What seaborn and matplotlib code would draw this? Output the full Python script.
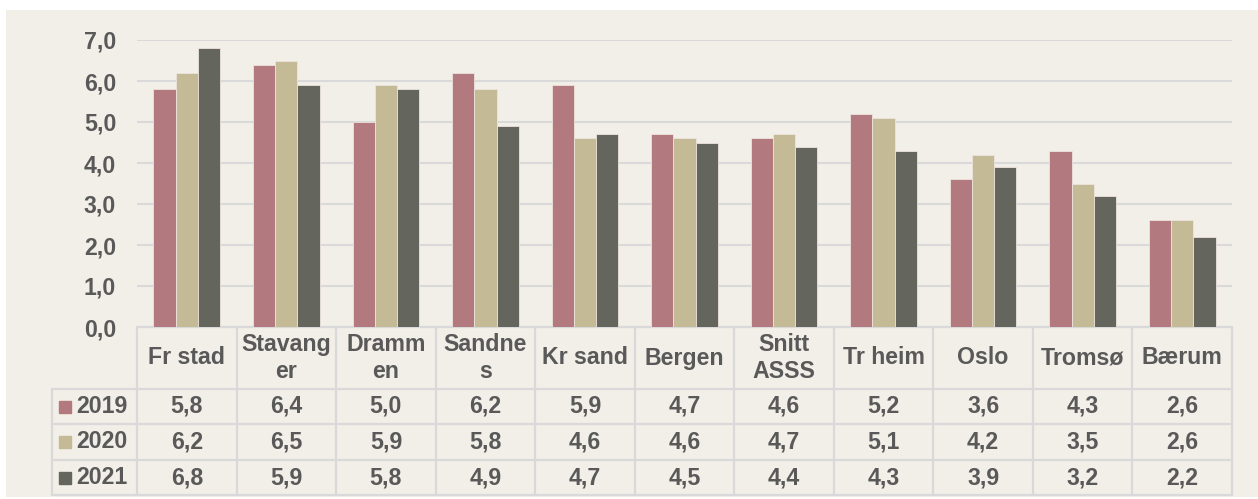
import numpy as np
import pandas as pd
import matplotlib
matplotlib.use('Agg')
import matplotlib.pyplot as plt
import seaborn as sns
from matplotlib.transforms import blended_transform_factory
from matplotlib.patches import Rectangle

# Data
kommuner = ['Fr stad', 'Stavang\ner', 'Dramm\nen', 'Sandne\ns', 'Kr sand', 'Bergen',
            'Snitt\nASSS', 'Tr heim', 'Oslo', 'Tromsø', 'Bærum']
aar = ['2019', '2020', '2021']
v2019 = [5.8, 6.4, 5.0, 6.2, 5.9, 4.7, 4.6, 5.2, 3.6, 4.3, 2.6]
v2020 = [6.2, 6.5, 5.9, 5.8, 4.6, 4.6, 4.7, 5.1, 4.2, 3.5, 2.6]
v2021 = [6.8, 5.9, 5.8, 4.9, 4.7, 4.5, 4.4, 4.3, 3.9, 3.2, 2.2]
farger = ['#B27A7E', '#C4BB96', '#64655C']

df = pd.DataFrame({'kommune': kommuner * 3,
                   'aar': np.repeat(aar, len(kommuner)),
                   'verdi': v2019 + v2020 + v2021})

sns.set_style('white')
plt.rcParams['font.family'] = ['Liberation Sans', 'DejaVu Sans']
plt.rcParams['font.weight'] = 'bold'
tekst = '#595959'
linje = '#D9D9D9'
fs = 16.7

W, H = 1258, 499
fig = plt.figure(figsize=(W / 100, H / 100), dpi=100)
fig.patches.append(Rectangle((6 / W, 2 / H), 1 - 6 / W, 1 - 12 / H, transform=fig.transFigure,
                             facecolor='#F2EFE8', edgecolor='none', zorder=-1))

ax = fig.add_axes([137 / W, (H - 327) / H, 1095 / W, 287 / H])
ax.set_facecolor('none')
sns.barplot(data=df, x='kommune', y='verdi', hue='aar', palette=farger, width=0.67,
            saturation=1, edgecolor='#EDE3DD', linewidth=0.6, legend=False, ax=ax, zorder=3)

ax.set_xlim(-0.5, len(kommuner) - 0.5)
ax.set_ylim(0, 7)
ax.set_yticks(range(0, 8))
ax.set_yticklabels([f'{v:.1f}'.replace('.', ',') for v in range(0, 8)])
ax.tick_params(axis='y', labelsize=fs, labelcolor=tekst, length=0, pad=15)
ax.set_xticks([])
ax.set_xlabel('')
ax.set_ylabel('')
ax.grid(axis='y', color=linje, linewidth=1.5)
ax.set_axisbelow(True)
for s in ax.spines.values():
    s.set_visible(False)

# Datatabell under grafen
trans = blended_transform_factory(ax.transData, ax.transAxes)
pxu = 1095 / len(kommuner)

def fy(py):
    return (327 - py) / 287

def fx(px):
    return -0.5 + (px - 137) / pxu

venstre = fx(52)
hoyre = len(kommuner) - 0.5
kw = dict(color=linje, lw=1.6, transform=trans, clip_on=False, zorder=1)
ax.plot([-0.5, hoyre], [fy(327), fy(327)], **kw)
for py in [389, 424, 460, 495]:
    ax.plot([venstre, hoyre], [fy(py), fy(py)], **kw)
ax.plot([venstre, venstre], [fy(389), fy(495)], **kw)
for i in range(len(kommuner) + 1):
    ax.plot([i - 0.5, i - 0.5], [fy(327), fy(495)], **kw)

for i, navn in enumerate(kommuner):
    ax.text(i, fy(358), navn, ha='center', va='center', fontsize=fs, color=tekst,
            fontweight='bold', linespacing=1.25, transform=trans)

rader = [v2019, v2020, v2021]
senter = [406.5, 442, 477.5]
for r, (navn, verdier, farge) in enumerate(zip(aar, rader, farger)):
    ax.plot([fx(65)], [fy(senter[r])], marker='s', markersize=8.6, color=farge,
            transform=trans, clip_on=False, linestyle='none')
    ax.text(fx(76), fy(senter[r]), navn, ha='left', va='center', fontsize=fs, color=tekst,
            fontweight='bold', transform=trans)
    for i, v in enumerate(verdier):
        ax.text(i, fy(senter[r]), f'{v:.1f}'.replace('.', ','), ha='center', va='center',
                fontsize=fs, color=tekst, fontweight='bold', transform=trans)

fig.savefig('out.png', dpi=100, facecolor='white')
